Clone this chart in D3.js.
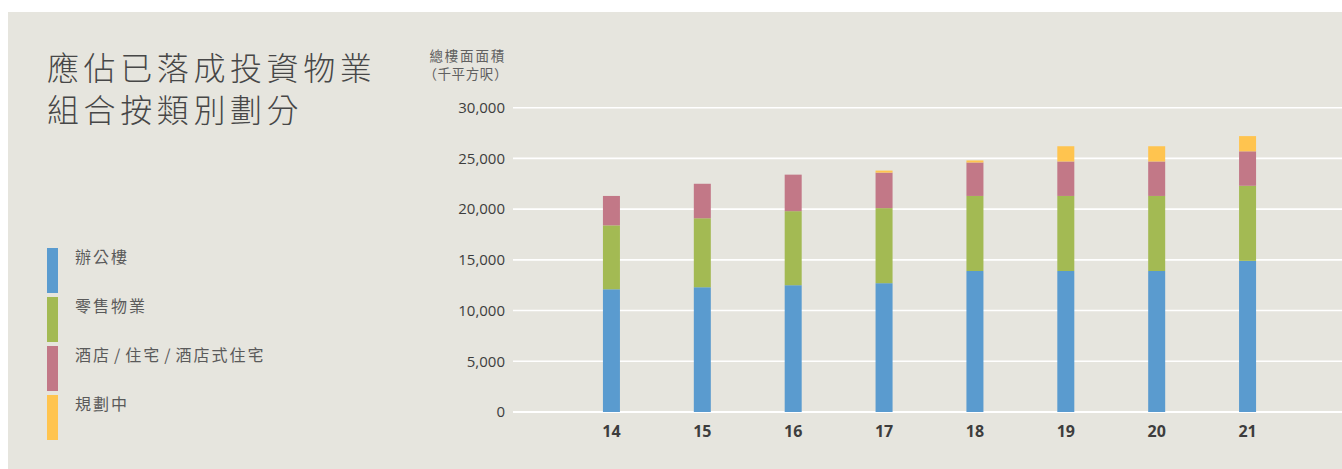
<!DOCTYPE html>
<html>
<head>
  <meta http-equiv="Content-Type" content="text/html;charset=utf-8">
  <title>投資物業組合</title>
  <script src="https://d3js.org/d3.v7.min.js"></script>
  <style>
    html, body { margin: 0; padding: 0; background: #fff; }
    svg { display: block; }
    text { font-family: "Open Sans", "Noto Sans CJK TC", sans-serif; }
    .cjk { font-family: "Noto Sans CJK TC", "Noto Sans", sans-serif; }
  </style>
</head>
<body>
<script>
  // years (x categories)
  var years = ["14", "15", "16", "17", "18", "19", "20", "21"];
  // gross floor area, thousand sq ft
  var office   = [12100, 12300, 12500, 12700, 13900, 13900, 13900, 14900];
  var retail   = [6300, 6800, 7300, 7400, 7400, 7400, 7400, 7400];
  var hotel    = [2900, 3400, 3600, 3500, 3300, 3400, 3400, 3400];
  var planning = [0, 0, 0, 200, 200, 1500, 1500, 1500];

  var seriesNames = ["辦公樓", "零售物業", "酒店/住宅/酒店式住宅", "規劃中"];
  var colors = ["#5A9BCF", "#A3BA53", "#C27887", "#FFC44F"];
  var yTicks = [0, 5000, 10000, 15000, 20000, 25000, 30000];

  var W = 1342, H = 469;
  var svg = d3.select("body").append("svg").attr("width", W).attr("height", H);

  svg.append("rect").attr("x", 8).attr("y", 12).attr("width", W - 8).attr("height", H - 12)
    .attr("fill", "#E6E5DE");

  // title
  var title = svg.append("text").attr("class", "cjk")
    .attr("fill", "#474747").attr("font-size", 32).attr("font-weight", 300)
    .attr("letter-spacing", 4.6);
  title.append("tspan").attr("x", 47).attr("y", 80).text("應佔已落成投資物業");
  title.append("tspan").attr("x", 47).attr("y", 122).text("組合按類別劃分");

  // stack
  var table = years.map(function (y, i) {
    return { year: y, k0: office[i], k1: retail[i], k2: hotel[i], k3: planning[i] };
  });
  var stack = d3.stack().keys(["k0", "k1", "k2", "k3"])(table);

  var x = d3.scaleBand().domain(years).range([566, 1293]);
  var y = d3.scaleLinear().domain([0, 30000]).range([412, 107.7]);
  var barW = 17;

  // grid
  svg.append("g").selectAll("line").data(yTicks).enter().append("line")
    .attr("x1", 513).attr("x2", W)
    .attr("y1", function (d) { return y(d); }).attr("y2", function (d) { return y(d); })
    .attr("stroke", "#fff").attr("stroke-width", function (d) { return d === 0 ? 2.2 : 1.6; });

  // y axis labels
  var yAxis = d3.axisLeft(y).tickValues(yTicks).tickSize(0).tickPadding(0)
    .tickFormat(d3.format(","));
  var ga = svg.append("g").attr("transform", "translate(505,0)").call(yAxis);
  ga.select(".domain").remove();
  ga.selectAll("text").attr("font-size", 15).attr("fill", "#3d3d3d")
    .attr("font-family", "Open Sans, sans-serif");

  // axis title
  svg.append("text").attr("class", "cjk").attr("text-anchor", "end")
    .attr("fill", "#606060").attr("font-size", 13.5).attr("letter-spacing", 1.8)
    .attr("x", 506).attr("y", 61).text("總樓面面積");
  svg.append("text").attr("class", "cjk").attr("text-anchor", "end")
    .attr("fill", "#606060").attr("font-size", 13.5).attr("letter-spacing", 0.6)
    .attr("x", 508).attr("y", 79).text("（千平方呎）");

  // bars
  svg.append("g").selectAll("g").data(stack).enter().append("g")
    .attr("fill", function (d, i) { return colors[i]; })
    .selectAll("rect").data(function (d) { return d; }).enter().append("rect")
    .attr("x", function (d) { return x(d.data.year) + x.bandwidth() / 2 - barW / 2; })
    .attr("width", barW)
    .attr("y", function (d) { return y(d[1]); })
    .attr("height", function (d) { return y(d[0]) - y(d[1]); });

  // x axis labels
  var xAxis = d3.axisBottom(x).tickSize(0).tickPadding(0);
  var gx = svg.append("g").attr("transform", "translate(0,426)").call(xAxis);
  gx.select(".domain").remove();
  gx.selectAll("text").attr("font-size", 16).attr("font-weight", 700).attr("fill", "#3d3d3d")
    .attr("font-family", "Open Sans, sans-serif");

  // legend
  var lg = svg.append("g").selectAll("g").data(seriesNames).enter().append("g")
    .attr("transform", function (d, i) { return "translate(47," + (248 + i * 49) + ")"; });
  lg.append("rect").attr("width", 11).attr("height", 45)
    .attr("fill", function (d, i) { return colors[i]; });
  var lt = lg.append("text").attr("class", "cjk").attr("x", 28).attr("y", 15)
    .attr("font-size", 16).attr("fill", "#5a5a5a").attr("letter-spacing", 2);
  lt.each(function (d) {
    var t = d3.select(this);
    d.split("/").forEach(function (part, i) {
      if (i > 0) t.append("tspan").attr("dx", 3).text("/");
      t.append("tspan").attr("dx", i > 0 ? 3 : 0).text(part);
    });
  });
</script>
</body>
</html>
